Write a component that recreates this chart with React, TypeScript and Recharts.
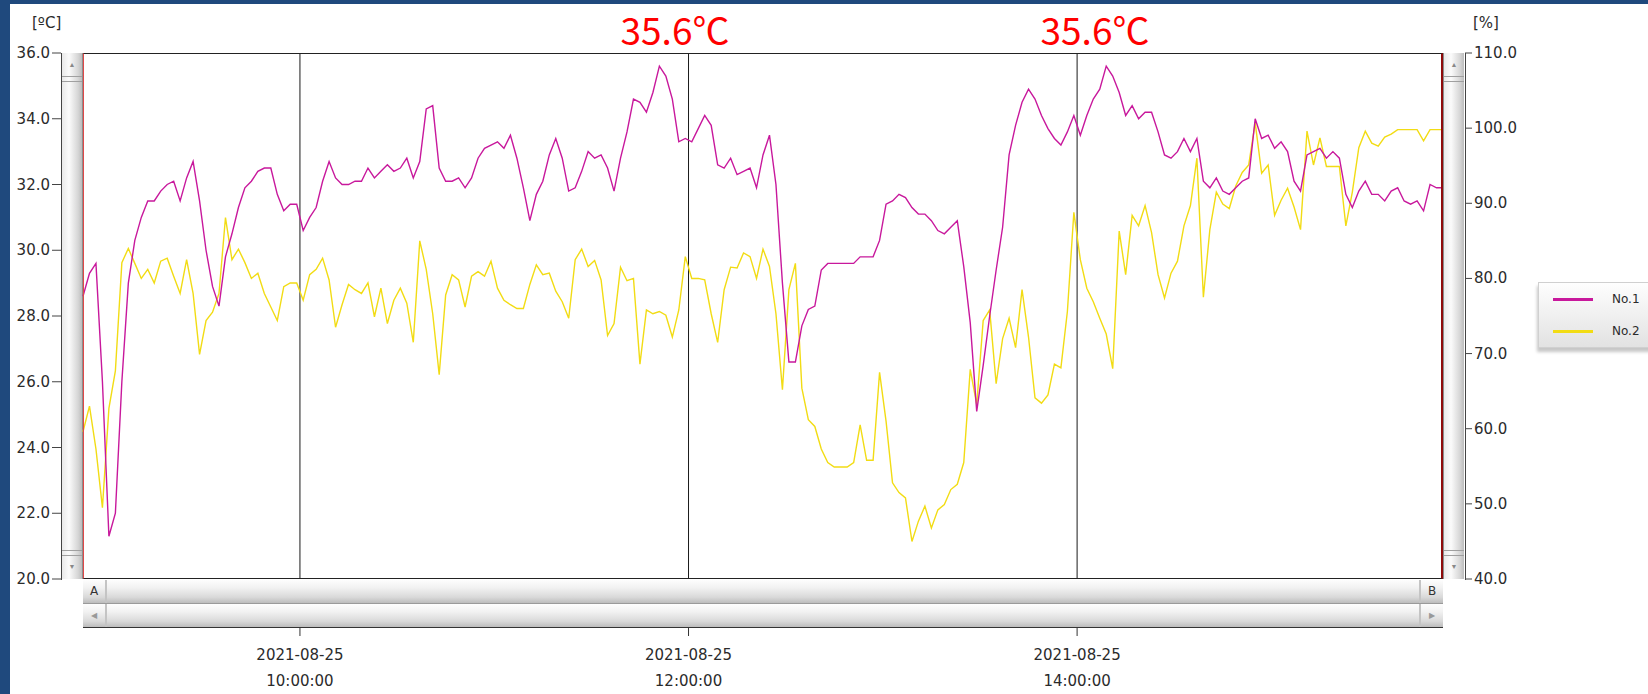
import React from "react";
import { LineChart, Line, XAxis, YAxis, CartesianGrid, Legend } from "recharts";

// Logger export 2021-08-25, one sample every 2 minutes from 08:53
const START_MIN = 533;
const STEP_MIN = 2;
const DATE_LABEL = "2021-08-25";
const TIME_TICKS = [600, 720, 840];
const TEMP_TICKS = [20, 22, 24, 26, 28, 30, 32, 34, 36];
const HUMID_TICKS = [40, 50, 60, 70, 80, 90, 100, 110];
const PEAK_LABELS = ["35.6℃", "35.6℃"];

// No.1 temperature [ºC]
const TEMP_NO1 = [
  28.6, 29.3, 29.6, 26.0, 21.3, 22.0, 26.0, 29.0, 30.3, 31.0,
  31.5, 31.5, 31.8, 32.0, 32.1, 31.5, 32.2, 32.7, 31.5, 30.0,
  28.9, 28.3, 29.8, 30.5, 31.3, 31.9, 32.1, 32.4, 32.5, 32.5,
  31.7, 31.2, 31.4, 31.4, 30.6, 31.0, 31.3, 32.1, 32.7, 32.2,
  32.0, 32.0, 32.1, 32.1, 32.5, 32.2, 32.4, 32.6, 32.4, 32.5,
  32.8, 32.2, 32.7, 34.3, 34.4, 32.5, 32.1, 32.1, 32.2, 31.9,
  32.2, 32.8, 33.1, 33.2, 33.3, 33.1, 33.5, 32.8, 31.9, 30.9,
  31.7, 32.1, 32.9, 33.4, 32.8, 31.8, 31.9, 32.4, 33.0, 32.8,
  32.9, 32.5, 31.8, 32.8, 33.6, 34.6, 34.5, 34.2, 34.8, 35.6,
  35.3, 34.6, 33.3, 33.4, 33.3, 33.7, 34.1, 33.8, 32.6, 32.5,
  32.8, 32.3, 32.4, 32.5, 31.9, 32.9, 33.5, 32.0, 29.0, 26.6,
  26.6, 27.7, 28.2, 28.3, 29.4, 29.6, 29.6, 29.6, 29.6, 29.6,
  29.8, 29.8, 29.8, 30.3, 31.4, 31.5, 31.7, 31.6, 31.3, 31.1,
  31.1, 30.9, 30.6, 30.5, 30.7, 30.9, 29.5, 27.8, 25.1, 26.5,
  28.0, 29.4, 30.7, 32.9, 33.8, 34.5, 34.9, 34.6, 34.1, 33.7,
  33.4, 33.2, 33.6, 34.1, 33.5, 34.1, 34.6, 34.9, 35.6, 35.3,
  34.8, 34.1, 34.4, 34.0, 34.2, 34.2, 33.6, 32.9, 32.8, 33.0,
  33.4, 33.0, 33.4, 32.1, 31.9, 32.2, 31.8, 31.7, 31.9, 32.1,
  32.2, 34.0, 33.4, 33.5, 33.1, 33.3, 33.0, 32.1, 31.8, 32.9,
  33.0, 33.1, 32.8, 33.0, 32.8, 31.7, 31.3, 31.8, 32.1, 31.7,
  31.7, 31.5, 31.8, 31.9, 31.5, 31.4, 31.5, 31.2, 32.0, 31.9, 31.9,
];

// No.2 humidity [%]
const HUMID_NO2 = [
  59.6, 63.0, 57.3, 49.5, 62.7, 67.7, 82.1, 84.0, 82.0, 80.0,
  81.2, 79.4, 82.3, 82.7, 80.3, 78.0, 82.5, 78.0, 69.9, 74.4,
  75.5, 78.0, 88.1, 82.5, 83.9, 82.1, 80.0, 80.7, 78.0, 76.2,
  74.4, 78.9, 79.4, 79.4, 77.1, 80.5, 81.2, 82.7, 79.8, 73.5,
  76.5, 79.2, 78.5, 78.0, 79.4, 74.9, 78.7, 74.0, 77.1, 78.7,
  76.7, 71.5, 85.0, 81.2, 75.3, 67.2, 77.8, 80.5, 79.8, 76.2,
  80.3, 80.9, 80.3, 82.3, 78.7, 77.1, 76.5, 76.0, 76.0, 79.2,
  81.8, 80.5, 80.7, 78.3, 76.9, 74.7, 82.5, 83.9, 81.6, 82.4,
  79.8, 72.4, 74.0, 81.5, 79.7, 80.0, 68.6, 75.8, 75.3, 75.6,
  75.1, 72.2, 75.8, 82.9, 80.0, 80.0, 79.8, 75.3, 71.5, 78.5,
  81.5, 81.4, 83.4, 82.9, 80.0, 83.9, 81.6, 75.3, 65.2, 78.5,
  82.0, 65.4, 61.2, 60.3, 57.3, 55.5, 54.9, 54.9, 54.9, 55.5,
  60.5, 55.8, 55.8, 67.5, 61.0, 52.8, 51.5, 50.8, 45.0, 47.7,
  49.7, 46.8, 49.2, 49.9, 51.9, 52.6, 55.5, 67.9, 63.2, 74.4,
  75.8, 66.0, 72.0, 74.7, 70.8, 78.5, 72.2, 64.1, 63.4, 64.5,
  68.6, 68.1, 75.6, 88.8, 82.5, 78.7, 76.9, 74.7, 72.6, 68.0,
  86.3, 80.5, 88.4, 87.0, 89.7, 86.1, 80.5, 77.4, 80.7, 82.3,
  87.0, 89.7, 96.0, 77.5, 86.5, 91.5, 89.9, 89.3, 92.3, 94.1,
  95.1, 100.7, 94.0, 95.1, 88.4, 90.4, 92.0, 89.5, 86.5, 99.6,
  95.1, 98.7, 94.9, 94.9, 94.9, 87.0, 91.5, 97.4, 99.6, 98.0,
  97.6, 98.8, 99.2, 99.8, 99.8, 99.8, 99.8, 98.3, 99.8, 99.8, 99.8,
];

const data = TEMP_NO1.map((t, i) => ({
  time: START_MIN + i * STEP_MIN,
  no1: t,
  no2: HUMID_NO2[i],
}));

const W = 1648;
const H = 694;
const PLOT = { left: 83, top: 53, right: 1443, bottom: 579 };
const TEXT = "#2b2b2b";
const FONT = "'DejaVu Sans', Verdana, sans-serif";

const pad = (n: number) => String(n).padStart(2, "0");
const clock = (m: number) => `${pad(Math.floor(m / 60))}:${pad(m % 60)}:00`;

const LeftTick = ({ y, payload }: any) => (
  <g>
    <line x1={52} x2={61} y1={y} y2={y} stroke="#444" />
    <text x={50} y={y} dy={5} textAnchor="end" fontSize={15} fill={TEXT} fontFamily={FONT}>
      {Number(payload.value).toFixed(1)}
    </text>
  </g>
);

const RightTick = ({ y, payload }: any) => (
  <g>
    <line x1={1465} x2={1472} y1={y} y2={y} stroke="#444" />
    <text x={1474} y={y} dy={5} textAnchor="start" fontSize={15} fill={TEXT} fontFamily={FONT}>
      {Number(payload.value).toFixed(1)}
    </text>
  </g>
);

const TimeTick = ({ x, payload }: any) => (
  <g>
    <line x1={x} x2={x} y1={628} y2={636} stroke="#333" />
    <text x={x} y={660} textAnchor="middle" fontSize={15} fill={TEXT} fontFamily={FONT}>
      {DATE_LABEL}
    </text>
    <text x={x} y={686} textAnchor="middle" fontSize={15} fill={TEXT} fontFamily={FONT}>
      {clock(payload.value)}
    </text>
  </g>
);

const LegendBox = ({ payload }: any) => (
  <div
    style={{
      width: 118,
      height: 66,
      boxSizing: "border-box",
      border: "1px solid #d0d0d0",
      background: "linear-gradient(#fefefe, #e2e2e2)",
      boxShadow: "-1px 4px 3px rgba(0,0,0,0.22)",
      fontFamily: FONT,
      fontSize: 12,
      color: TEXT,
    }}
  >
    {(payload || []).map((p: any) => (
      <div key={p.value} style={{ display: "flex", alignItems: "center", height: 32 }}>
        <div style={{ marginLeft: 14, width: 40, height: 3, background: p.color }} />
        <span style={{ marginLeft: 19 }}>{p.value}</span>
      </div>
    ))}
  </div>
);

const vBar = "linear-gradient(to right, #e9e9e9, #fbfbfb 35%, #d6d6d6 80%, #bdbdbd)";
const hBar = "linear-gradient(#fdfdfd, #f1f1f1 35%, #d9d9d9 75%, #bcbcbc)";

const VScroll = ({ left }: { left: number }) => (
  <div
    style={{
      position: "absolute",
      left,
      top: PLOT.top,
      width: 20,
      height: PLOT.bottom - PLOT.top,
      background: vBar,
    }}
  >
    <div style={{ position: "absolute", top: 8, width: "100%", textAlign: "center", fontSize: 7, color: "#888" }}>▲</div>
    <div style={{ position: "absolute", top: 23, width: "100%", height: 4, borderTop: "1px solid #a0a0a0", borderBottom: "1px solid #a0a0a0" }} />
    <div style={{ position: "absolute", top: 497, width: "100%", height: 4, borderTop: "1px solid #a0a0a0", borderBottom: "1px solid #a0a0a0" }} />
    <div style={{ position: "absolute", top: 510, width: "100%", textAlign: "center", fontSize: 7, color: "#888" }}>▼</div>
  </div>
);

const HScroll = ({ top, leftLabel, rightLabel, small }: any) => (
  <div
    style={{
      position: "absolute",
      left: PLOT.left,
      top,
      width: PLOT.right - PLOT.left,
      height: 24,
      background: hBar,
      boxSizing: "border-box",
      borderBottom: "1px solid #9a9a9a",
    }}
  >
    <div
      style={{
        position: "absolute",
        left: 0,
        top: 0,
        width: 22,
        height: 23,
        borderRight: "2px solid #c4c4c4",
        fontSize: small ? 8 : 12,
        color: small ? "#999" : "#333",
        lineHeight: "23px",
        textAlign: "center",
        fontFamily: FONT,
      }}
    >
      {leftLabel}
    </div>
    <div
      style={{
        position: "absolute",
        right: 0,
        top: 0,
        width: 22,
        height: 23,
        borderLeft: "2px solid #c4c4c4",
        fontSize: small ? 8 : 12,
        color: small ? "#999" : "#333",
        lineHeight: "23px",
        textAlign: "center",
        fontFamily: FONT,
      }}
    >
      {rightLabel}
    </div>
  </div>
);

export default function App() {
  return (
    <div style={{ position: "relative", width: W, height: H, background: "#1f497d", overflow: "hidden" }}>
      <style>{"body{margin:0}"}</style>
      <div style={{ position: "absolute", left: 10, top: 4, right: 0, bottom: 0, background: "#ffffff" }} />

      <VScroll left={62} />
      <VScroll left={1444} />
      <HScroll top={580} leftLabel="A" rightLabel="B" />
      <HScroll top={604} leftLabel="◀" rightLabel="▶" small />

      <div style={{ position: "absolute", left: 61, top: PLOT.top, width: 1, height: PLOT.bottom - PLOT.top + 1, background: "#444" }} />
      <div style={{ position: "absolute", left: 1465, top: PLOT.top, width: 1, height: PLOT.bottom - PLOT.top + 1, background: "#444" }} />

      <div style={{ position: "absolute", left: 0, top: 0 }}>
        <LineChart
          width={W}
          height={H}
          data={data}
          margin={{ top: PLOT.top, left: PLOT.left - 60, right: W - PLOT.right - 60, bottom: H - PLOT.bottom - 50 }}
        >
          <CartesianGrid horizontal={false} stroke="#1a1a1a" strokeWidth={1} />
          <XAxis
            dataKey="time"
            type="number"
            domain={[START_MIN, START_MIN + (TEMP_NO1.length - 1) * STEP_MIN]}
            ticks={TIME_TICKS}
            interval={0}
            height={50}
            axisLine={false}
            tickLine={false}
            tick={<TimeTick />}
          />
          <YAxis
            yAxisId="left"
            width={60}
            domain={[20, 36]}
            ticks={TEMP_TICKS}
            interval={0}
            allowDataOverflow
            axisLine={false}
            tickLine={false}
            tick={<LeftTick />}
          />
          <YAxis
            yAxisId="right"
            orientation="right"
            width={60}
            domain={[40, 110]}
            ticks={HUMID_TICKS}
            interval={0}
            allowDataOverflow
            axisLine={false}
            tickLine={false}
            tick={<RightTick />}
          />
          <Legend
            layout="vertical"
            align="center"
            verticalAlign="middle"
            content={<LegendBox />}
            wrapperStyle={{ left: 1538, top: 282, width: 118 }}
          />
          <Line
            yAxisId="right"
            type="linear"
            dataKey="no2"
            name="No.2"
            stroke="#f2dc14"
            strokeWidth={1.4}
            dot={false}
            isAnimationActive={false}
          />
          <Line
            yAxisId="left"
            type="linear"
            dataKey="no1"
            name="No.1"
            stroke="#c8189c"
            strokeWidth={1.4}
            dot={false}
            isAnimationActive={false}
          />
        </LineChart>
      </div>

      {/* plot frame */}
      <div
        style={{
          position: "absolute",
          left: PLOT.left,
          top: PLOT.top,
          width: PLOT.right - PLOT.left,
          height: PLOT.bottom - PLOT.top,
          boxSizing: "border-box",
          borderTop: "1px solid #222",
          borderBottom: "1px solid #222",
          borderLeft: "1px solid #e04848",
          borderRight: "2px solid #8e0a0a",
          pointerEvents: "none",
        }}
      />
      <div style={{ position: "absolute", left: PLOT.left, top: 627, width: PLOT.right - PLOT.left, height: 1, background: "#333" }} />

      <div style={{ position: "absolute", left: 32, top: 14, fontFamily: FONT, fontSize: 15, color: TEXT }}>[ºC]</div>
      <div style={{ position: "absolute", left: 1473, top: 14, fontFamily: FONT, fontSize: 15, color: TEXT }}>[%]</div>

      <svg style={{ position: "absolute", left: 0, top: 0, pointerEvents: "none" }} width={W} height={60}>
        {PEAK_LABELS.map((label, i) => (
          <text
            key={i}
            x={i === 0 ? 675 : 1095}
            y={45}
            textAnchor="middle"
            fontSize={37}
            fill="#ff0000"
            fontFamily="'Noto Sans CJK JP', 'Noto Sans', sans-serif"
          >
            {label}
          </text>
        ))}
      </svg>
    </div>
  );
}
